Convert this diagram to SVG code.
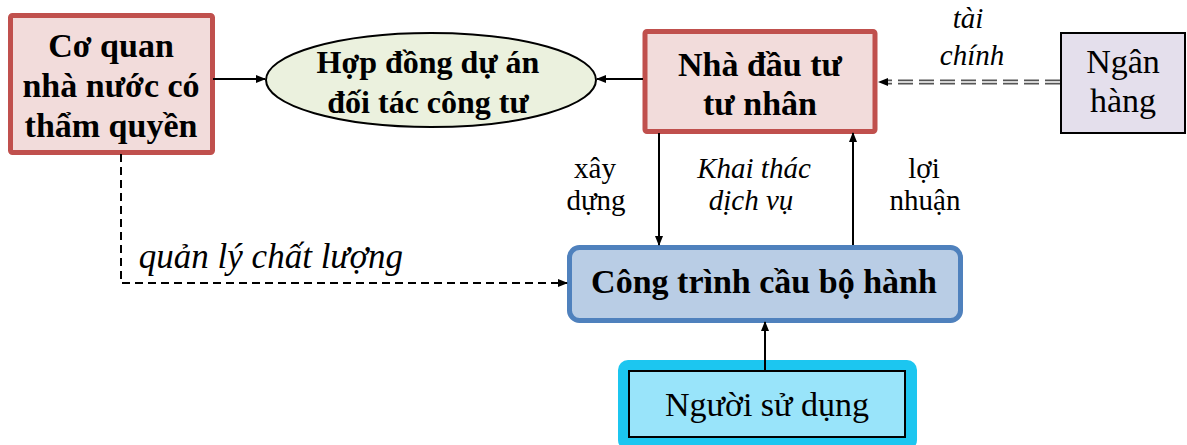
<svg xmlns="http://www.w3.org/2000/svg" width="1187" height="445" viewBox="0 0 1187 445">
<defs>
<marker id="ah" markerWidth="10" markerHeight="10" refX="9" refY="5" orient="auto" markerUnits="userSpaceOnUse">
<path d="M0,1 L10,5 L0,9 Z" fill="#000"/>
</marker>
<style>
text{font-family:"Liberation Serif","Times New Roman",serif;fill:#000;text-anchor:middle}
.b{font-weight:bold;font-size:34px}
.e{font-weight:bold;font-size:32px}
.r{font-size:34px}
.lab{font-size:29px}
.it{font-style:italic}
.q{font-style:italic;font-size:35px}
.con{stroke:#000;stroke-width:2;fill:none}
.dash{stroke-dasharray:8 5}
.pink{fill:#F2DCDB;stroke:#C0504D;stroke-width:5}
</style>
</defs>
<rect width="1187" height="445" fill="#fff"/>
<g id="co-quan">
<rect class="pink" x="10.5" y="15.5" width="202" height="137" rx="2"/>
<text class="b" x="111" y="57">Cơ quan</text>
<text class="b" x="111" y="97">nhà nước có</text>
<text class="b" x="111" y="137">thẩm quyền</text>
</g>
<g id="hop-dong">
<ellipse cx="431" cy="80" rx="165" ry="47" fill="#EBF1DE" stroke="#000" stroke-width="2"/>
<text class="e" x="428" y="73">Hợp đồng dự án</text>
<text class="e" x="428" y="113">đối tác công tư</text>
</g>
<g id="nha-dau-tu">
<rect class="pink" x="645" y="31.5" width="230" height="100" rx="2"/>
<text class="b" x="760" y="76">Nhà đầu tư</text>
<text class="b" x="760" y="115">tư nhân</text>
</g>
<g id="ngan-hang">
<rect x="1061" y="33" width="124" height="100" fill="#E4DFEC" stroke="#000" stroke-width="2"/>
<text class="r" x="1123" y="73">Ngân</text>
<text class="r" x="1123" y="112">hàng</text>
</g>
<g id="cong-trinh">
<rect x="569.5" y="247.5" width="391" height="73" rx="10" fill="#B9CDE5" stroke="#4F81BD" stroke-width="5"/>
<text class="b" x="764" y="293">Công trình cầu bộ hành</text>
</g>
<g id="nguoi-su-dung">
<rect x="618" y="360" width="299" height="90" rx="10" fill="#1CC6F0"/>
<rect x="629" y="371" width="276" height="66" fill="#99E4FA" stroke="#000" stroke-width="2"/>
<text class="r" x="767" y="416">Người sử dụng</text>
</g>
<g id="connectors">
<line class="con" x1="213" y1="79" x2="265" y2="79" marker-end="url(#ah)"/>
<line class="con" x1="643" y1="79" x2="597" y2="79" marker-end="url(#ah)"/>
<line x1="1060" y1="82" x2="886" y2="82" stroke="#555" stroke-width="5" stroke-dasharray="15 6"/>
<line x1="1060" y1="82" x2="886" y2="82" stroke="#fff" stroke-width="1.5" stroke-dasharray="15 6"/>
<path d="M878,82 L888,78 L888,86 Z" fill="#000"/>
<line class="con" x1="659" y1="133" x2="659" y2="245" marker-end="url(#ah)"/>
<line class="con" x1="853" y1="245" x2="853" y2="133" marker-end="url(#ah)"/>
<line class="con" x1="765" y1="371" x2="765" y2="322" marker-end="url(#ah)"/>
<path class="con dash" d="M121,154 V283 H567" marker-end="url(#ah)"/>
</g>
<g id="labels">
<text class="lab it" x="968" y="28">tài</text>
<text class="lab it" x="972" y="65">chính</text>
<text class="lab" x="595" y="178">xây</text>
<text class="lab" x="596" y="210">dựng</text>
<text class="lab it" x="754" y="178">Khai thác</text>
<text class="lab it" x="751" y="210">dịch vụ</text>
<text class="lab" x="924" y="178">lợi</text>
<text class="lab" x="925" y="210">nhuận</text>
<text class="q" x="271" y="268">quản lý chất lượng</text>
</g>
</svg>
